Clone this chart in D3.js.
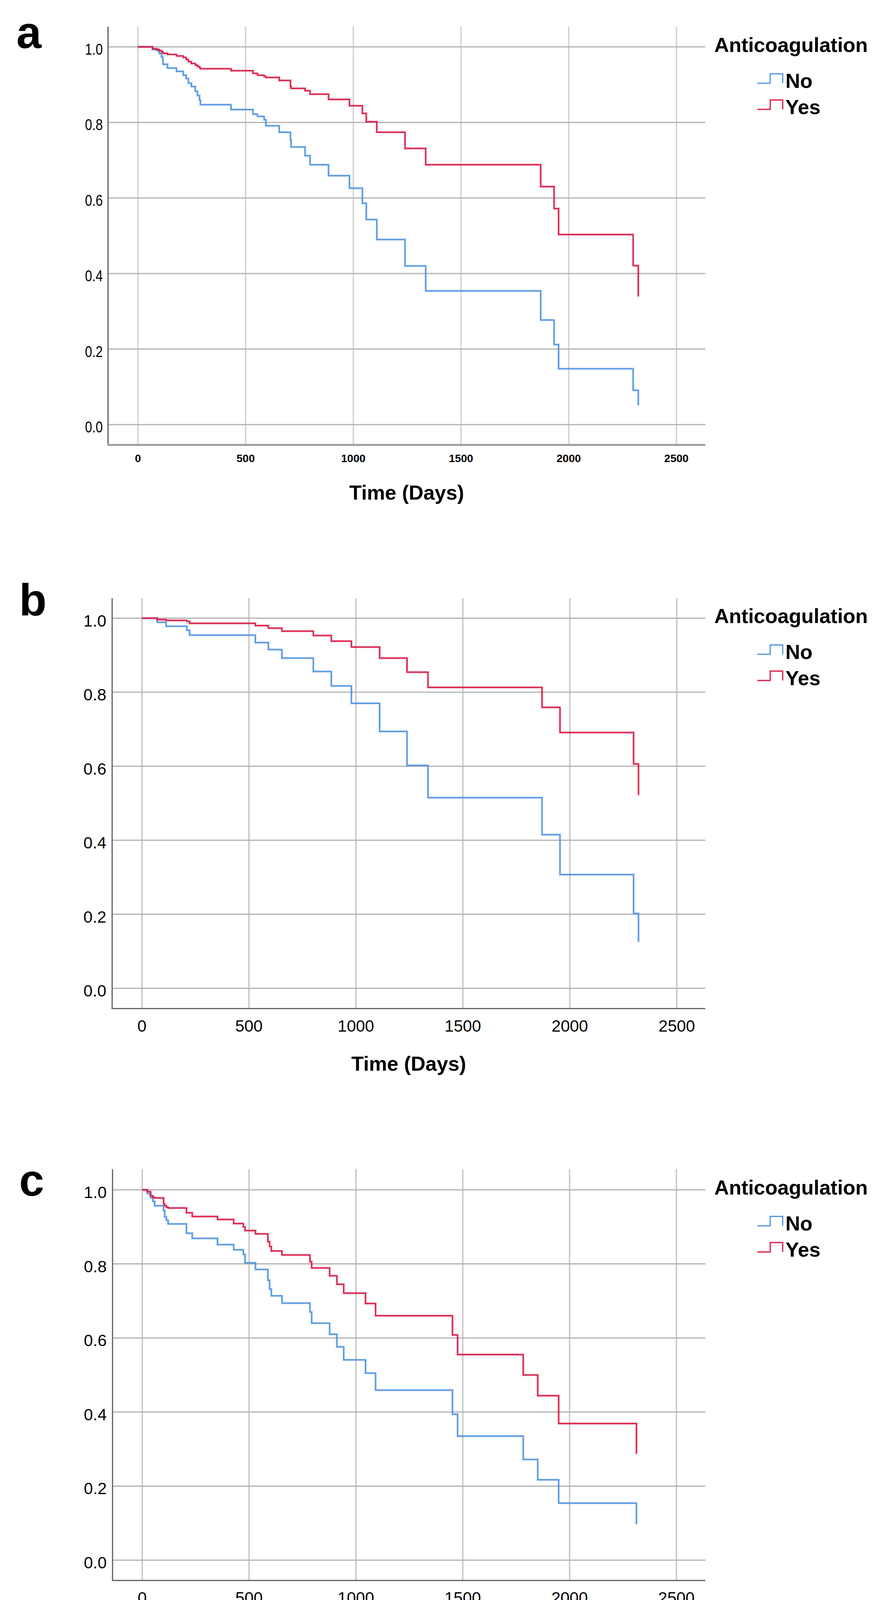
<!DOCTYPE html>
<html>
<head>
<meta charset="utf-8">
<script src="https://cdn.jsdelivr.net/npm/d3@7"></script>
<style>
  html, body { margin: 0; padding: 0; background: #ffffff; }
  svg { display: block; }
  text { font-family: "Liberation Sans", Arial, Helvetica, sans-serif; fill: #000; }
</style>
</head>
<body>
<svg id="chart" width="2252" height="5726"></svg>
<script>
// ---------------- DATA ----------------
const panelLetters = ["a", "b", "c", "d"];
const groupNames = ["No", "Yes"];
const legendTitle = "Anticoagulation";
const axisTitle = "Time (Days)";
const yTickValues = [0, 0.2, 0.4, 0.6, 0.8, 1.0];
const xTickValues2500 = [0, 500, 1000, 1500, 2000, 2500];
const xTickValues4000 = [0, 1000, 2000, 3000, 4000];

// Panel a
const timesA = [0, 68, 88, 99, 109, 116, 137, 179, 210, 224, 234, 248, 266, 276, 286, 290, 432, 534, 555, 586, 594, 656, 708, 711, 776, 799, 885, 982, 1042, 1060, 1109, 1240, 1336, 1870, 1932, 1953, 2299, 2323];
const noA    = [1, 0.993, 0.990, 0.983, 0.973, 0.954, 0.944, 0.935, 0.925, 0.916, 0.904, 0.895, 0.883, 0.871, 0.859, 0.847, 0.834, 0.822, 0.816, 0.807, 0.791, 0.774, 0.754, 0.735, 0.712, 0.688, 0.659, 0.626, 0.586, 0.543, 0.490, 0.420, 0.354, 0.277, 0.212, 0.148, 0.091, 0.051];
const yesA   = [1, 0.995, 0.993, 0.990, 0.987, 0.983, 0.980, 0.976, 0.972, 0.967, 0.961, 0.956, 0.952, 0.948, 0.945, 0.942, 0.937, 0.930, 0.925, 0.922, 0.919, 0.911, 0.895, 0.890, 0.884, 0.875, 0.861, 0.844, 0.824, 0.802, 0.774, 0.731, 0.688, 0.630, 0.572, 0.503, 0.421, 0.339];

// Panel b
const timesB = [0, 71, 113, 210, 223, 530, 591, 654, 801, 885, 979, 1111, 1239, 1337, 1870, 1954, 2298, 2321];
const noB    = [1, 0.989, 0.978, 0.967, 0.954, 0.934, 0.915, 0.892, 0.856, 0.817, 0.770, 0.694, 0.602, 0.515, 0.415, 0.307, 0.202, 0.125];
const yesB   = [1, 0.996, 0.994, 0.991, 0.986, 0.980, 0.973, 0.965, 0.953, 0.938, 0.922, 0.892, 0.854, 0.813, 0.759, 0.691, 0.606, 0.522];

// Panel c
const timesC = [0, 24, 39, 50, 58, 100, 105, 113, 121, 207, 234, 352, 428, 473, 481, 530, 588, 596, 604, 654, 785, 793, 877, 911, 943, 1045, 1092, 1452, 1476, 1783, 1851, 1949, 2313];
const noC    = [1, 0.990, 0.979, 0.969, 0.957, 0.944, 0.927, 0.918, 0.908, 0.883, 0.869, 0.852, 0.838, 0.826, 0.803, 0.785, 0.756, 0.732, 0.714, 0.694, 0.670, 0.640, 0.610, 0.576, 0.541, 0.505, 0.459, 0.394, 0.335, 0.272, 0.217, 0.154, 0.097];
const yesC   = [1, 0.995, 0.984, 0.980, 0.978, 0.962, 0.957, 0.953, 0.951, 0.938, 0.928, 0.920, 0.909, 0.900, 0.890, 0.881, 0.860, 0.847, 0.835, 0.824, 0.806, 0.789, 0.768, 0.745, 0.721, 0.693, 0.660, 0.608, 0.555, 0.500, 0.444, 0.369, 0.287];

// Panel d
const timesD = [0, 56, 71, 160, 270, 419, 569, 572, 607, 787, 1117, 1473, 1778, 1850, 1863, 1946, 3239];
const noD    = [1, 0.996, 0.995, 0.992, 0.987, 0.982, 0.975, 0.966, 0.960, 0.949, 0.935, 0.876, 0.789, 0.680, 0.564, 0.418, 0.173];
const yesD   = [1, 0.9895, 0.977, 0.960, 0.938, 0.915, 0.883, 0.854, 0.825, 0.783, 0.723, 0.539, 0.331, 0.166, 0.069, 0.018, 0.0];

// ---------------- LAYOUT / STYLE ----------------
const groupColors = ["#4a90e2", "#d9123f"];

const panels = [
  { times: timesA, series: [noA, yesA], xDomain: [0, 2500], xTicks: xTickValues2500,
    left: 276.5, right: 1805, top: 68, bottom: 1139, xr: [353, 1731], yr: [1087, 120],
    letterX: 42, letterY: 123,
    xt: { size: 28, weight: "bold", off: 44 },
    yt: { size: 40, weight: "normal", sx: 0.82, right: 263, off: 20 },
    titleY: 1279, legendY: 133, bottomColor: "#9c9c9c", bottomWidth: 5, vGrid: "#d2d2d2" },
  { times: timesB, series: [noB, yesB], xDomain: [0, 2500], xTicks: xTickValues2500,
    left: 287, right: 1805, top: 1531, bottom: 2582, xr: [363.3, 1732], yr: [2530, 1582.5],
    letterX: 49, letterY: 1576,
    xt: { size: 42, weight: "normal", off: 59 },
    yt: { size: 42, weight: "normal", sx: 1, right: 272, off: 21 },
    titleY: 2741, legendY: 1595, bottomColor: "#5e5e5e", bottomWidth: 3, vGrid: "#c6c6c6" },
  { times: timesC, series: [noC, yesC], xDomain: [0, 2500], xTicks: xTickValues2500,
    left: 288, right: 1805, top: 2993, bottom: 4046, xr: [364, 1731], yr: [3994, 3046],
    letterX: 49, letterY: 3061,
    xt: { size: 42, weight: "normal", off: 59 },
    yt: { size: 42, weight: "normal", sx: 1, right: 273, off: 21 },
    titleY: 4205, legendY: 3058, bottomColor: "#5e5e5e", bottomWidth: 3, vGrid: "#c6c6c6" },
  { times: timesD, series: [noD, yesD], xDomain: [0, 4000], xTicks: xTickValues4000,
    left: 287, right: 1805, top: 4457, bottom: 5508, xr: [363.3, 1732], yr: [5458, 4509.3],
    letterX: 49, letterY: 4534,
    xt: { size: 42, weight: "normal", off: 59 },
    yt: { size: 42, weight: "normal", sx: 1, right: 272, off: 21 },
    titleY: 5667, legendY: 4523, bottomColor: "#5e5e5e", bottomWidth: 3, vGrid: "#c6c6c6" }
];

const svg = d3.select("#chart");

panels.forEach((p, i) => {
  const x = d3.scaleLinear().domain(p.xDomain).range(p.xr);
  const y = d3.scaleLinear().domain([0, 1]).range(p.yr);
  const g = svg.append("g");

  // vertical gridlines
  g.append("g").selectAll("line").data(p.xTicks).join("line")
    .attr("x1", d => x(d)).attr("x2", d => x(d))
    .attr("y1", p.top).attr("y2", p.bottom)
    .attr("stroke", p.vGrid).attr("stroke-width", 3.5);

  // horizontal gridlines
  g.append("g").selectAll("line").data(yTickValues).join("line")
    .attr("x1", p.left).attr("x2", p.right)
    .attr("y1", d => y(d)).attr("y2", d => y(d))
    .attr("stroke", "#b2b2b2").attr("stroke-width", 3);

  // axes frame
  g.append("line").attr("x1", p.left).attr("x2", p.left)
    .attr("y1", p.top).attr("y2", p.bottom + 1)
    .attr("stroke", "#5e5e5e").attr("stroke-width", 3);
  g.append("line").attr("x1", p.left - 1.5).attr("x2", p.right)
    .attr("y1", p.bottom).attr("y2", p.bottom)
    .attr("stroke", p.bottomColor).attr("stroke-width", p.bottomWidth);

  // x tick labels
  g.append("g").selectAll("text").data(p.xTicks).join("text")
    .attr("x", d => x(d)).attr("y", p.bottom + p.xt.off)
    .attr("text-anchor", "middle")
    .style("font-size", p.xt.size + "px").style("font-weight", p.xt.weight)
    .text(d => d3.format("d")(d));

  // y tick labels
  g.append("g").selectAll("g").data(yTickValues).join("g")
    .attr("transform", d => `translate(${p.yt.right},${y(d) + p.yt.off}) scale(${p.yt.sx},1)`)
    .append("text")
    .attr("text-anchor", "end")
    .style("font-size", p.yt.size + "px").style("font-weight", p.yt.weight)
    .text(d => d3.format(".1f")(d));

  // survival curves
  const line = d3.line().x(d => x(d.t)).y(d => y(d.s)).curve(d3.curveStepAfter);
  p.series.forEach((vals, k) => {
    const pts = p.times.map((t, j) => ({ t: t, s: vals[j] }));
    g.append("path").datum(pts).attr("d", line)
      .attr("fill", "none").attr("stroke", groupColors[k])
      .attr("stroke-width", 7).attr("stroke-opacity", 0.22);
    g.append("path").datum(pts).attr("d", line)
      .attr("fill", "none").attr("stroke", groupColors[k])
      .attr("stroke-width", 3);
  });

  // panel letter
  g.append("text").attr("x", p.letterX).attr("y", p.letterY)
    .style("font-size", "115px").style("font-weight", "bold")
    .text(panelLetters[i]);

  // axis title
  g.append("text").attr("x", (p.left + p.right) / 2).attr("y", p.titleY)
    .attr("text-anchor", "middle")
    .style("font-size", "52px").style("font-weight", "bold")
    .text(axisTitle);

  // legend
  const lg = g.append("g");
  lg.append("text").attr("x", 1828).attr("y", p.legendY)
    .style("font-size", "52px").style("font-weight", "bold")
    .text(legendTitle);
  const offsets = [92, 159];
  groupNames.forEach((name, k) => {
    const by = p.legendY + offsets[k];
    const icon = d3.path();
    icon.moveTo(1938, by - 12);
    icon.lineTo(1971, by - 12);
    icon.lineTo(1971, by - 36);
    icon.lineTo(2003, by - 36);
    icon.lineTo(2003, by - 12);
    lg.append("path").attr("d", icon.toString())
      .attr("fill", "none").attr("stroke", groupColors[k]).attr("stroke-width", 3);
    lg.append("text").attr("x", 2010).attr("y", by)
      .style("font-size", "52px").style("font-weight", "bold")
      .text(name);
  });
});
</script>
</body>
</html>
